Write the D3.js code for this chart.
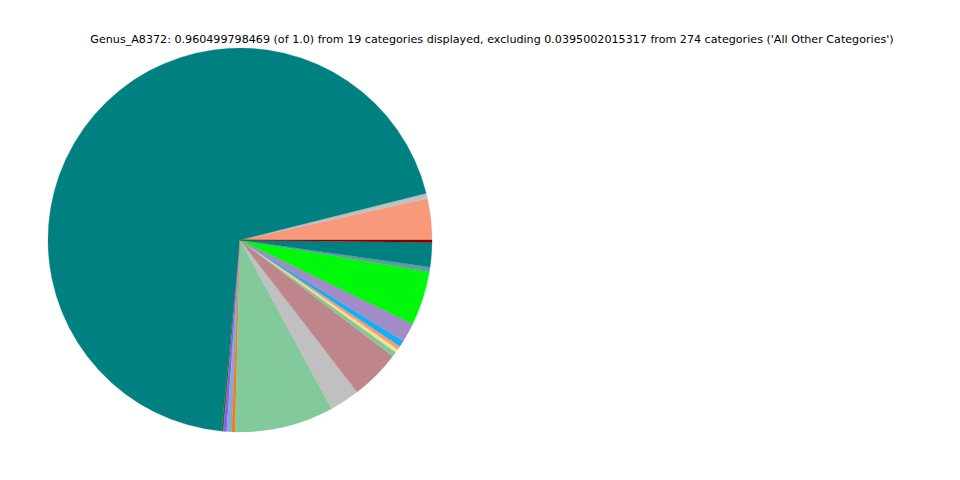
<!DOCTYPE html>
<html>
<head>
<meta charset="utf-8">
<script src="https://cdn.jsdelivr.net/npm/d3@7"></script>
<style>
  html, body { margin: 0; padding: 0; background: #ffffff; }
  svg { display: block; }
</style>
</head>
<body>
<svg id="chart" width="960" height="480"></svg>
<script>
const titleText = "Genus_A8372: 0.960499798469 (of 1.0) from 19 categories displayed, excluding 0.0395002015317 from 274 categories ('All Other Categories')";
const categories = ["Cat 1","Cat 2","Cat 3","Cat 4","Cat 5","Cat 6","Cat 7","Cat 8","Cat 9","Cat 10",
                    "Cat 11","Cat 12","Cat 13","Cat 14","Cat 15","Cat 16","Cat 17","Cat 18","Cat 19"];
const values = [0.03335, 0.00427, 0.66810, 0.00150, 0.00267, 0.00400, 0.00267, 0.08000, 0.02432, 0.04029,
                0.00400, 0.00293, 0.00293, 0.00507, 0.01547, 0.04349, 0.00400, 0.01975, 0.00190];
const colors = ["#f8997b","#c0c0c0","#008080","#1e7a1e","#8a5cf0","#85a8dc","#f57d0f","#82c99b","#c0c0c0","#be868c",
                "#86c79a","#f2e48c","#f8997b","#12aff5","#a38bc8","#00f80a","#5f9ea0","#008080","#8b0000"];

const svg = d3.select("#chart");
const cx = 240, cy = 240, r = 192;

svg.append("text")
  .attr("x", 492).attr("y", 43)
  .attr("text-anchor", "middle")
  .attr("font-family", "DejaVu Sans, sans-serif")
  .attr("font-size", 11.14)
  .attr("fill", "#000")
  .text(titleText);

const data = categories.map((c, i) => ({name: c, value: values[i], color: colors[i]}));
const pie = d3.pie().sort(null).value(d => d.value)
  .startAngle(Math.PI / 2).endAngle(Math.PI / 2 - 2 * Math.PI);
const arc = d3.arc().innerRadius(0).outerRadius(r);

svg.append("g").attr("transform", `translate(${cx},${cy})`)
  .selectAll("path").data(pie(data)).join("path")
  .attr("d", arc)
  .attr("fill", d => d.data.color)
  .attr("stroke", d => d.data.color)
  .attr("stroke-width", 0.3);
</script>
</body>
</html>
